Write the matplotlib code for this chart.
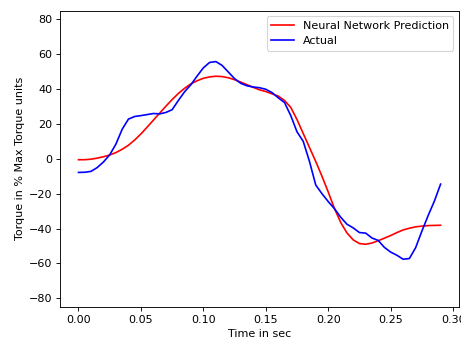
import numpy as np
import matplotlib
matplotlib.use("Agg")
import matplotlib.pyplot as plt

# --- sampled torque traces (every 5 ms) ---
time_s = np.round(np.arange(0, 0.2901, 0.005), 3)

predicted = [
    -0.5, -0.5, -0.2, 0.4, 1.2, 2.2, 3.6, 5.5, 7.8, 10.8,
    14.3, 18.2, 22.2, 26.2, 30.2, 34.0, 37.5, 40.5, 43.0, 44.8,
    46.2, 47.0, 47.4, 47.2, 46.5, 45.4, 44.0, 42.5, 41.0, 39.6,
    38.6, 37.3, 36.0, 33.5, 29.5, 22.5, 14.5, 6.5, -1.5, -10.0,
    -19.0, -28.5, -36.5, -42.5, -46.5, -48.6, -49.0, -48.3, -47.0, -45.5,
    -44.0, -42.3, -40.8, -39.8, -39.0, -38.6, -38.3, -38.2, -38.1,
]

actual = [
    -7.8, -7.7, -7.2, -5.0, -1.8, 2.3, 8.5, 17.0, 22.8, 24.3,
    24.8, 25.4, 26.0, 25.8, 26.6, 28.2, 33.5, 38.5, 42.5, 47.5,
    52.2, 55.3, 55.8, 53.6, 49.8, 46.0, 43.3, 41.9, 41.2, 40.8,
    39.9, 38.0, 35.0, 32.3, 24.8, 15.5, 10.0, -1.5, -15.0, -20.0,
    -24.5, -28.6, -33.5, -37.5, -39.6, -42.3, -42.6, -45.4, -46.8, -50.8,
    -53.5, -55.3, -57.6, -57.2, -51.0, -41.5, -32.6, -24.3, -14.5,
]

DPI = 80
fig = plt.figure(figsize=(461 / DPI, 341 / DPI), dpi=DPI)
ax = fig.add_axes([0.131, 0.0997, 0.864, 0.869])

ax.plot(time_s, predicted, color="red", linewidth=1.5, label="Neural Network Prediction")
ax.plot(time_s, actual, color="blue", linewidth=1.5, label="Actual")

ax.set_ylim(-85, 85)
ax.set_yticks(np.arange(-80, 81, 20))
ax.set_xticks(np.arange(0, 0.301, 0.05))
ax.xaxis.set_major_formatter(matplotlib.ticker.FormatStrFormatter("%.2f"))

ax.set_xlabel("Time in sec")
ax.set_ylabel("Torque in % Max Torque units")
ax.legend(loc="upper right")

fig.savefig("out.png", dpi=DPI)
